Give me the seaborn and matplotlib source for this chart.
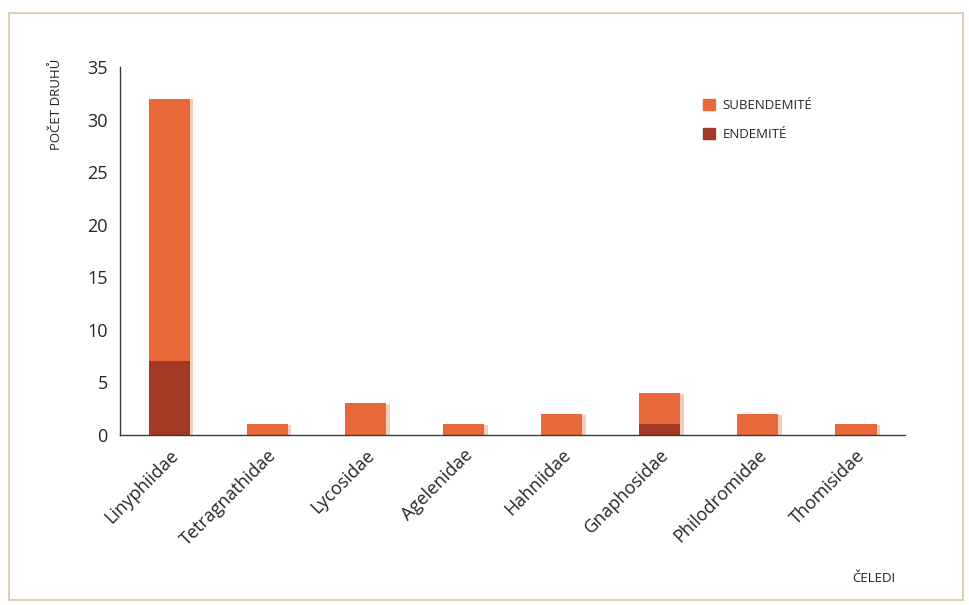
import matplotlib
matplotlib.use("Agg")
import matplotlib.pyplot as plt
import matplotlib.patheffects as pe
from matplotlib.patches import Rectangle
import numpy as np
import pandas as pd
import seaborn as sns

families = ["Linyphiidae", "Tetragnathidae", "Lycosidae", "Agelenidae",
            "Hahniidae", "Gnaphosidae", "Philodromidae", "Thomisidae"]
subendemic = [25, 1, 3, 1, 2, 3, 2, 1]
endemic = [7, 0, 0, 0, 0, 1, 0, 0]

ORANGE = "#E8683A"
DARK = "#A23A25"
AXIS = "#3a3a3a"

df = pd.DataFrame({"family": families, "sub": subendemic, "end": endemic})
df["total"] = df["sub"] + df["end"]

sns.set_style("white")
plt.rcParams["font.family"] = ["Open Sans", "DejaVu Sans"]

fig = plt.figure(figsize=(9.69, 6.05), dpi=100)
fig.patches.append(Rectangle((0.009, 0.008), 0.985, 0.970, transform=fig.transFigure,
                             fill=False, edgecolor="#D8C3A6", linewidth=1.2))
ax = fig.add_axes([0.124, 0.281, 0.810, 0.608])

shadow = [pe.SimplePatchShadow(offset=(2.5, -0.5), shadow_rgbFace="#F6CDBB", alpha=1.0), pe.Normal()]
sns.barplot(data=df, x="family", y="total", color=ORANGE, width=0.42,
            saturation=1, ax=ax, linewidth=0)
sns.barplot(data=df, x="family", y="end", color=DARK, width=0.42,
            saturation=1, ax=ax, linewidth=0)
for p in ax.patches:
    if p.get_facecolor()[:3] == matplotlib.colors.to_rgb(ORANGE):
        p.set_path_effects(shadow)

ax.set_xlim(-0.5, len(families) - 0.5)
ax.set_ylim(0, 35)
ax.set_yticks(range(0, 36, 5))
ax.set_xticks(range(len(families)))
ax.set_xticklabels(families, rotation=45, ha="right", rotation_mode="anchor", fontsize=13)
ax.set_xticks(np.arange(-0.5, len(families)), minor=True)
ax.tick_params(axis="x", which="major", length=0, pad=8)
ax.tick_params(axis="x", which="minor", length=5, width=1, color=AXIS, direction="out")
ax.tick_params(axis="y", length=5, width=1, color=AXIS, direction="out", labelsize=13, pad=4)
ax.set_xlabel("")
ax.set_ylabel("")
for side in ["top", "right"]:
    ax.spines[side].set_visible(False)
for side in ["left", "bottom"]:
    ax.spines[side].set_color(AXIS)
    ax.spines[side].set_linewidth(1)

fig.text(0.058, 0.828, "POČET DRUHŮ", rotation=90, ha="center", va="center", fontsize=9.5, color="#222")
fig.text(0.880, 0.044, "ČELEDI", ha="left", va="center", fontsize=9.5, color="#222")

handles = [Rectangle((0, 0), 1, 1, color=ORANGE), Rectangle((0, 0), 1, 1, color=DARK)]
ax.legend(handles, ["SUBENDEMITÉ", "ENDEMITÉ"], loc="upper left", bbox_to_anchor=(0.728, 0.945),
          frameon=False, fontsize=9.5, handlelength=0.85, handleheight=0.85, labelspacing=1.2,
          handletextpad=0.6)

fig.savefig("out.png", dpi=100)
